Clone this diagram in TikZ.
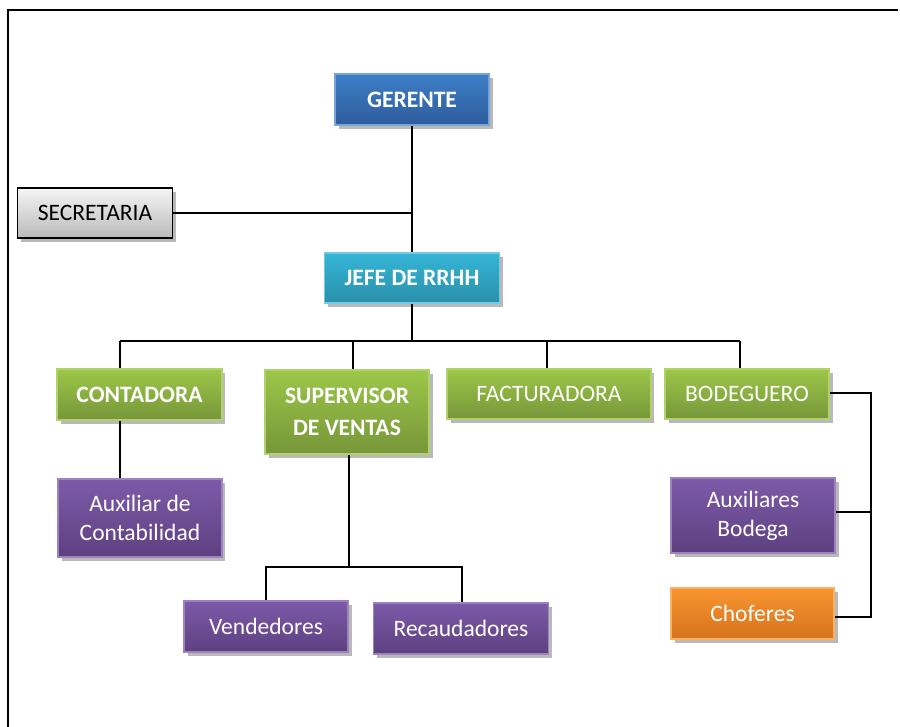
\documentclass[tikz,border=0pt]{standalone}
\usepackage{fontspec}
\setmainfont{Carlito}
\usepackage{tikz}
\usetikzlibrary{shadows}

\definecolor{azulA}{HTML}{3E7FC8}
\definecolor{azulB}{HTML}{2D5C9C}
\definecolor{cianA}{HTML}{36B5D6}
\definecolor{cianB}{HTML}{2990AC}
\definecolor{verdeA}{HTML}{9CC748}
\definecolor{verdeB}{HTML}{77963A}
\definecolor{moradoA}{HTML}{7D5AA9}
\definecolor{moradoB}{HTML}{5E4080}
\definecolor{naranjaA}{HTML}{F8952F}
\definecolor{naranjaB}{HTML}{D6721E}

\tikzset{
  cargo/.style={rectangle,align=center,text=white,line width=0.7pt,
    font=\fontsize{13.4}{16.5}\selectfont,
    drop shadow={opacity=0.55,shadow xshift=2pt,shadow yshift=-2.5pt}},
  negrita/.style={font=\bfseries\fontsize{13.4}{16.5}\selectfont},
  azul/.style={cargo,top color=azulA,bottom color=azulB,draw=azulA!70!white},
  cian/.style={cargo,top color=cianA,bottom color=cianB,draw=cianA!70!white},
  verde/.style={cargo,top color=verdeA,bottom color=verdeB,draw=verdeA!80!white},
  morado/.style={cargo,top color=moradoA,bottom color=moradoB,draw=moradoA!75!white},
  naranja/.style={cargo,top color=naranjaA,bottom color=naranjaB,draw=naranjaA!75!white},
  gris/.style={cargo,text=black,top color=black!4,bottom color=black!27,draw=black},
  linea/.style={line width=0.8pt,black}
}

\begin{document}
\begin{tikzpicture}[x=0.02cm,y=-0.02cm]
\useasboundingbox (0,0) rectangle (900,727);
		\draw[line width=0.8pt] (8,727) -- (8,10) -- (898,10);
		% cajas
		\node[azul,negrita,minimum width=3.08cm,minimum height=1.02cm] (ger) at (412,99.5) {GERENTE};
		\node[gris,minimum width=3.10cm,minimum height=1.00cm] (sec) at (95,213) {SECRETARIA};
		\node[cian,negrita,minimum width=3.50cm,minimum height=1.00cm] (jefe) at (412,278) {JEFE DE RRHH};
		\node[verde,negrita,minimum width=3.30cm,minimum height=1.02cm] (cont) at (139.5,394.5) {CONTADORA};
		\node[verde,negrita,minimum width=3.28cm,minimum height=1.68cm,font=\bfseries\fontsize{13.4}{18.5}\selectfont] (sup) at (347,412) {SUPERVISOR\\DE VENTAS};
		\node[verde,minimum width=4.08cm,minimum height=1.00cm] (fact) at (549,394) {FACTURADORA};
		\node[verde,minimum width=3.28cm,minimum height=1.00cm] (bod) at (747,394) {BODEGUERO};
		\node[morado,minimum width=3.28cm,minimum height=1.56cm] (auxc) at (140,518) {Auxiliar de\\Contabilidad};
		\node[morado,minimum width=3.28cm,minimum height=1.02cm] (vend) at (266,626.5) {Vendedores};
		\node[morado,minimum width=3.50cm,minimum height=1.02cm] (rec) at (461,628.5) {Recaudadores};
		\node[morado,minimum width=3.28cm,minimum height=1.50cm] (auxb) at (753,515.5) {Auxiliares\\Bodega};
		\node[naranja,minimum width=3.26cm,minimum height=1.02cm] (chof) at (752.5,613.5) {Choferes};
		% puntos de union
		\coordinate (A) at (120,341);
		\coordinate (B) at (353,341);
		\coordinate (C) at (547,341);
		\coordinate (D) at (740,341);
		\coordinate (E) at (266,567);
		\coordinate (F) at (462,567);
		\coordinate (G) at (871,393);
		\coordinate (H) at (871,617);
		% lineas
		\draw[linea] (ger.south) -- (jefe.north);
		\draw[linea] (sec.east) -- (sec.east -| ger.south);
		\draw[linea] (jefe.south) -- (jefe.south |- A);
		\draw[linea] (A) -- (D);
		\draw[linea] (A) -- (A |- cont.north);
		\draw[linea] (B) -- (B |- sup.north);
		\draw[linea] (C) -- (C |- fact.north);
		\draw[linea] (D) -- (D |- bod.north);
		\draw[linea] (cont.south -| A) -- (auxc.north -| A);
		\draw[linea] (sup.south -| 349,0) -- (349,567);
		\draw[linea] (vend.north -| E) |- (F) -- (F |- rec.north);
		\draw[linea] (bod.east |- G) -- (G) -- (H) -- (H -| chof.east);
		\draw[linea] (auxb.east |- 0,512) -- (871,512);
\end{tikzpicture}
\end{document}
